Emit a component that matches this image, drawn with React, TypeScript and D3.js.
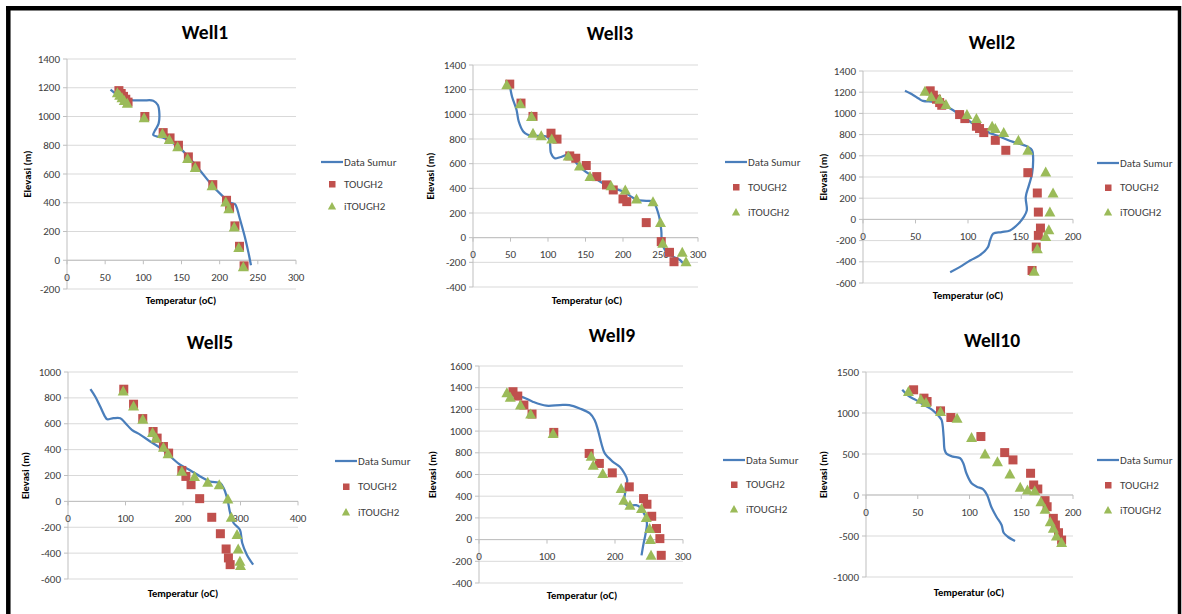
import React from "react";
import * as d3 from "d3";

type Pt = [number, number];

// ---------- data: [temperature (oC), elevation (m)] ----------
const well1Line: Pt[] = [[57,1187],[66,1150],[76,1120],[87,1113],[100,1112],[113,1110],[119,1080],[121,1020],[120,950],[115,900],[113,872],[120,858],[126,853],[146,788],[161,707],[174,626],[192,510],[205,440],[211,406],[220,390],[222,371],[227,278],[233,162],[238,46],[241,-35]];
const well1Tough2: Pt[] = [[68,1180],[71,1160],[74,1140],[77,1120],[80,1100],[102,1000],[126,888],[135,851],[146,800],[159,719],[169,656],[191,526],[209,417],[213,366],[220,239],[226,97],[232,-39]];
const well1ITough2: Pt[] = [[66,1165],[69,1148],[72,1130],[75,1112],[79,1093],[101,991],[125,881],[134,840],[145,789],[158,708],[168,645],[190,519],[208,405],[212,359],[219,232],[225,88],[231,-46]];

const well3Line: Pt[] = [[49,1240],[52,1145],[58,1037],[61,942],[67,861],[73,834],[84,826],[98,820],[102,793],[104,685],[109,644],[116,652],[127,671],[136,617],[147,550],[160,495],[173,441],[187,401],[200,374],[211,333],[218,306],[231,298],[240,292],[247,198],[251,62],[252,-46],[256,-100],[267,-154],[276,-181],[280,-208]];
const well3Tough2: Pt[] = [[49,1245],[64,1091],[80,983],[104,847],[112,799],[129,663],[137,644],[151,585],[165,495],[178,428],[187,387],[200,314],[205,292],[231,122],[251,-32],[262,-119],[268,-195]];
const well3ITough2: Pt[] = [[45,1240],[63,1085],[78,983],[80,847],[91,826],[105,799],[127,663],[142,582],[156,495],[184,420],[203,387],[218,314],[240,292],[250,122],[253,-46],[279,-119],[284,-195]];

const well2Line: Pt[] = [[40,1213],[48,1172],[53,1140],[57,1118],[67,1109],[73,1093],[83,1046],[99,942],[115,841],[131,778],[143,731],[156,690],[161,652],[162,589],[161,431],[158,321],[155,211],[156,85],[153,22],[148,-41],[140,-104],[132,-120],[124,-135],[121,-198],[119,-261],[111,-340],[102,-387],[92,-450],[83,-498]];
const well2Tough2: Pt[] = [[64,1213],[67,1172],[70,1134],[73,1102],[75,1077],[92,989],[97,951],[108,879],[111,857],[115,819],[126,746],[136,652],[157,441],[166,249],[167,69],[169,-82],[167,-151],[165,-261],[161,-482]];
const well2ITough2: Pt[] = [[59,1209],[65,1156],[73,1134],[79,1083],[99,989],[108,951],[123,879],[126,857],[134,819],[148,746],[157,652],[174,447],[181,249],[178,69],[177,-98],[174,-161],[166,-277],[163,-488]];

const well5Line: Pt[] = [[39,867],[48,805],[56,733],[65,651],[68,635],[79,643],[91,643],[100,604],[111,553],[126,514],[143,463],[161,412],[178,347],[195,283],[213,239],[230,193],[247,154],[265,141],[272,90],[278,0],[282,-90],[288,-167],[299,-219],[303,-322],[311,-412],[322,-489]];
const well5Tough2: Pt[] = [[97,867],[114,751],[130,640],[148,540],[155,489],[166,424],[175,373],[198,239],[205,193],[214,129],[229,21],[250,-123],[265,-250],[275,-368],[279,-437],[282,-489]];
const well5ITough2: Pt[] = [[96,854],[114,738],[130,635],[147,532],[153,489],[166,419],[174,368],[198,232],[220,193],[243,147],[263,129],[278,18],[284,-123],[294,-257],[296,-368],[299,-463],[300,-496]];

const well9Line: Pt[] = [[38,1363],[48,1332],[65,1311],[79,1271],[99,1234],[119,1240],[133,1240],[148,1209],[163,1163],[170,1102],[175,1009],[180,886],[185,794],[197,717],[207,671],[214,609],[218,548],[216,486],[214,394],[212,348],[219,317],[231,317],[236,302],[244,225],[247,148],[245,55],[242,-37],[239,-145]];
const well9Tough2: Pt[] = [[50,1363],[57,1323],[66,1240],[78,1157],[110,988],[162,794],[177,702],[196,615],[221,486],[242,378],[247,326],[254,215],[261,102],[266,9],[268,-145]];
const well9ITough2: Pt[] = [[41,1354],[46,1311],[61,1240],[76,1157],[109,978],[165,769],[168,686],[182,609],[209,471],[213,363],[222,317],[239,286],[246,203],[251,102],[252,0],[253,-145]];

const well10Line: Pt[] = [[35,1283],[41,1209],[48,1160],[56,1099],[64,1038],[70,965],[73,916],[75,713],[76,550],[78,501],[84,468],[91,448],[94,387],[97,265],[102,143],[107,102],[113,73],[117,0],[121,-143],[126,-265],[131,-366],[133,-460],[137,-509],[144,-562]];
const well10Tough2: Pt[] = [[46,1283],[56,1181],[59,1140],[72,1026],[82,945],[111,713],[134,517],[142,428],[159,265],[162,122],[166,73],[173,-69],[175,-143],[181,-285],[183,-366],[186,-460],[189,-550]];
const well10ITough2: Pt[] = [[41,1262],[53,1169],[58,1128],[72,1018],[88,936],[102,700],[115,501],[127,407],[139,257],[149,94],[156,61],[163,53],[169,-81],[173,-175],[178,-326],[181,-407],[184,-501],[189,-578]];

const seriesNames = ["Data Sumur", "TOUGH2", "iTOUGH2"];
const xAxisTitle = "Temperatur (oC)";
const yAxisTitle = "Elevasi (m)";

// ---------- layout ----------
interface Panel {
  title: string;
  line: Pt[]; tough: Pt[]; itough: Pt[];
  xDomain: [number, number]; xStep: number;
  yDomain: [number, number]; yStep: number;
  left: number; right: number; top: number; bottom: number;
  titleX: number; titleY: number;
  yTitleX: number; xTitleX: number; xTitleY: number;
  legX: number; legY: number; legGap: number;
}

const panels: Panel[] = [
  { title: "Well1", line: well1Line, tough: well1Tough2, itough: well1ITough2,
    xDomain: [0, 300], xStep: 50, yDomain: [-200, 1400], yStep: 200,
    left: 67, right: 296, top: 59, bottom: 289,
    titleX: 205, titleY: 32, yTitleX: 27, xTitleX: 181, xTitleY: 300,
    legX: 321, legY: 162, legGap: 22 },
  { title: "Well3", line: well3Line, tough: well3Tough2, itough: well3ITough2,
    xDomain: [0, 300], xStep: 50, yDomain: [-400, 1400], yStep: 200,
    left: 473, right: 698, top: 65, bottom: 287,
    titleX: 610, titleY: 33, yTitleX: 430, xTitleX: 587, xTitleY: 300,
    legX: 725, legY: 162, legGap: 25 },
  { title: "Well2", line: well2Line, tough: well2Tough2, itough: well2ITough2,
    xDomain: [0, 200], xStep: 50, yDomain: [-600, 1400], yStep: 200,
    left: 863, right: 1073, top: 71, bottom: 283,
    titleX: 992, titleY: 42, yTitleX: 823, xTitleX: 968, xTitleY: 295,
    legX: 1097, legY: 163, legGap: 24.5 },
  { title: "Well5", line: well5Line, tough: well5Tough2, itough: well5ITough2,
    xDomain: [0, 400], xStep: 100, yDomain: [-600, 1000], yStep: 200,
    left: 68, right: 298, top: 372, bottom: 579,
    titleX: 210, titleY: 342, yTitleX: 25, xTitleX: 183, xTitleY: 593,
    legX: 335, legY: 461, legGap: 25.5 },
  { title: "Well9", line: well9Line, tough: well9Tough2, itough: well9ITough2,
    xDomain: [0, 300], xStep: 100, yDomain: [-400, 1600], yStep: 200,
    left: 479, right: 683, top: 366, bottom: 583,
    titleX: 612, titleY: 335, yTitleX: 432, xTitleX: 582, xTitleY: 595,
    legX: 723, legY: 460, legGap: 24.5 },
  { title: "Well10", line: well10Line, tough: well10Tough2, itough: well10ITough2,
    xDomain: [0, 200], xStep: 50, yDomain: [-1000, 1500], yStep: 500,
    left: 866, right: 1073, top: 372, bottom: 577,
    titleX: 992, titleY: 340, yTitleX: 823, xTitleX: 969, xTitleY: 592,
    legX: 1097, legY: 460, legGap: 25 },
];

const FONT = "Carlito, Lato, 'Open Sans', sans-serif";
const LINE_COLOR = "#4A7EBB";
const SQ_COLOR = "#C0504D";
const TRI_COLOR = "#9BBB59";
const GRID = "#D9D9D9";
const AXIS = "#BFBFBF";
const TEXT = "#404040";

const triPath = (cx: number, cy: number, s: number) =>
  `M${cx},${cy - s * 0.55}L${cx + s * 0.55},${cy + s * 0.45}L${cx - s * 0.55},${cy + s * 0.45}Z`;

function Chart({ p }: { p: Panel }) {
  const x = d3.scaleLinear().domain(p.xDomain).range([p.left, p.right]);
  const y = d3.scaleLinear().domain(p.yDomain).range([p.bottom, p.top]);
  const xTicks = d3.range(p.xDomain[0], p.xDomain[1] + 0.001, p.xStep);
  const yTicks = d3.range(p.yDomain[0], p.yDomain[1] + 0.001, p.yStep);
  const lineGen = d3.line<Pt>().x(d => x(d[0])).y(d => y(d[1])).curve(d3.curveCatmullRom.alpha(0.5));
  const y0 = y(0);
  const x0 = x(0);
  const ms = 9;
  return (
    <g>
      <text x={p.titleX} y={p.titleY} textAnchor="middle" dominantBaseline="central"
        fontFamily={FONT} fontWeight="bold" fontSize={19.5} fill="#000">{p.title}</text>
      {yTicks.map(t => (
        <g key={"y" + t}>
          <line x1={p.left} x2={p.right} y1={y(t)} y2={y(t)} stroke={GRID} strokeWidth={1} />
          <line x1={p.left - 4} x2={p.left} y1={y(t)} y2={y(t)} stroke={AXIS} strokeWidth={1} />
          <text x={p.left - 7} y={y(t)} textAnchor="end" dominantBaseline="central"
            fontFamily={FONT} fontSize={11} fill={TEXT}>{t}</text>
        </g>
      ))}
      <line x1={x0} x2={x0} y1={p.top} y2={p.bottom} stroke={AXIS} strokeWidth={1} />
      <line x1={p.left} x2={p.right} y1={y0} y2={y0} stroke={AXIS} strokeWidth={1} />
      {xTicks.map(t => (
        <g key={"x" + t}>
          <line x1={x(t)} x2={x(t)} y1={y0} y2={y0 + 4} stroke={AXIS} strokeWidth={1} />
          <text x={x(t)} y={y0 + 17} textAnchor="middle" dominantBaseline="central"
            fontFamily={FONT} fontSize={11} fill={TEXT}>{t}</text>
        </g>
      ))}
      <text x={p.xTitleX} y={p.xTitleY} textAnchor="middle" dominantBaseline="central"
        fontFamily={FONT} fontWeight="bold" fontSize={10.5} fill="#000">{xAxisTitle}</text>
      <text transform={`translate(${p.yTitleX},${(p.top + p.bottom) / 2}) rotate(-90)`}
        textAnchor="middle" dominantBaseline="central"
        fontFamily={FONT} fontWeight="bold" fontSize={10.5} fill="#000">{yAxisTitle}</text>
      <path d={lineGen(p.line) || ""} fill="none" stroke={LINE_COLOR} strokeWidth={2.25} strokeLinejoin="round" />
      {p.tough.map((d, i) => (
        <rect key={"s" + i} x={x(d[0]) - ms / 2} y={y(d[1]) - ms / 2} width={ms} height={ms} fill={SQ_COLOR} />
      ))}
      {p.itough.map((d, i) => (
        <path key={"t" + i} d={triPath(x(d[0]), y(d[1]), ms + 1)} fill={TRI_COLOR} />
      ))}
      {/* legend */}
      <line x1={p.legX} x2={p.legX + 22} y1={p.legY} y2={p.legY} stroke={LINE_COLOR} strokeWidth={2.25} />
      <text x={p.legX + 23} y={p.legY} dominantBaseline="central" fontFamily={FONT} fontSize={11} fill={TEXT}>{seriesNames[0]}</text>
      <rect x={p.legX + 8} y={p.legY + p.legGap - 3} width={6.5} height={6.5} fill={SQ_COLOR} />
      <text x={p.legX + 23} y={p.legY + p.legGap} dominantBaseline="central" fontFamily={FONT} fontSize={11} fill={TEXT}>{seriesNames[1]}</text>
      <path d={triPath(p.legX + 11, p.legY + 2 * p.legGap, 7.5)} fill={TRI_COLOR} />
      <text x={p.legX + 23} y={p.legY + 2 * p.legGap} dominantBaseline="central" fontFamily={FONT} fontSize={11} fill={TEXT}>{seriesNames[2]}</text>
    </g>
  );
}

export default function App() {
  return (
    <svg width={1182} height={614} style={{ position: "absolute", left: 0, top: 0, background: "#fff" }}>
      <rect x={0} y={0} width={1182} height={614} fill="#fff" />
      {panels.map(p => <Chart key={p.title} p={p} />)}
      <line x1={8.3} x2={8.3} y1={6} y2={614} stroke="#000" strokeWidth={4.5} />
      <line x1={6} x2={1181} y1={8.3} y2={8.3} stroke="#000" strokeWidth={4.5} />
      <line x1={1179.5} x2={1179.5} y1={6} y2={614} stroke="#000" strokeWidth={3.5} />
    </svg>
  );
}
